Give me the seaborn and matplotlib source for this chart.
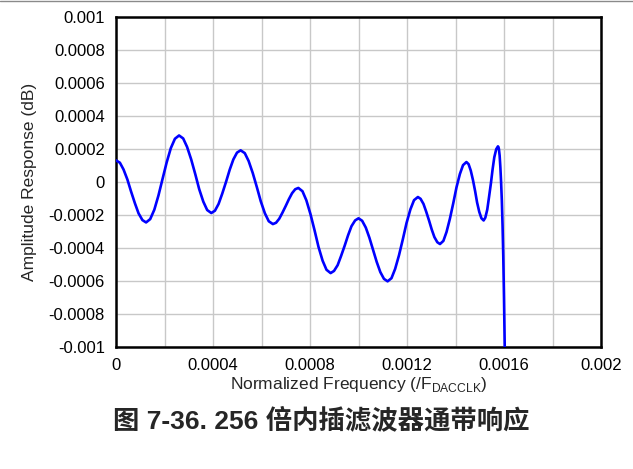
import matplotlib
matplotlib.use("Agg")
import matplotlib.pyplot as plt
from matplotlib.lines import Line2D
from matplotlib.ticker import MultipleLocator, FixedLocator
import numpy as np
import pandas as pd
import seaborn as sns

# Passband ripple of the 256x interpolation filter
# frequency in units of 1e-6 (normalized to F_DACCLK), response in units of 1e-6 dB
freq_u = [
    0, 16, 31, 47, 62, 78, 93, 109,
    124, 141, 158, 175, 192, 209, 226, 243,
    260, 277, 293, 310, 327, 343, 360, 376,
    393, 408, 423, 438, 454, 469, 484, 499,
    514, 531, 547, 564, 581, 597, 614, 630,
    647, 660, 673, 686, 700, 713, 726, 739,
    752, 769, 785, 802, 819, 835, 852, 868,
    885, 899, 914, 928, 943, 957, 971, 986,
    1000, 1015, 1030, 1045, 1060, 1075, 1090, 1105,
    1120, 1136, 1151, 1167, 1183, 1198, 1214, 1229,
    1245, 1256, 1268, 1279, 1291, 1302, 1313, 1325,
    1336, 1350, 1363, 1377, 1391, 1404, 1418, 1431,
    1445, 1454, 1463, 1472, 1481, 1489, 1498, 1507,
    1516, 1523, 1531, 1538, 1546, 1553, 1560, 1568,
    1575, 1577, 1579, 1582, 1585, 1588, 1591, 1594, 1597, 1600, 1603, 1608,
]
resp_u = [
    131, 117, 76, 15, -57, -129, -190, -231,
    -245, -225, -168, -82, 19, 119, 205, 262,
    282, 264, 213, 137, 47, -43, -119, -170,
    -188, -174, -133, -71, 2, 75, 137, 178,
    192, 175, 127, 54, -32, -117, -190, -238,
    -255, -247, -223, -187, -145, -104, -68, -44,
    -36, -56, -111, -195, -294, -393, -477, -532,
    -552, -539, -504, -449, -386, -323, -268, -233,
    -220, -235, -276, -338, -411, -484, -546, -587,
    -602, -583, -527, -444, -346, -249, -166, -110,
    -91, -102, -133, -179, -234, -288, -334, -365,
    -376, -357, -303, -222, -127, -33, 48, 102,
    121, 108, 69, 12, -56, -124, -181, -220,
    -233, -216, -167, -94, -8, 77, 150, 199,
    216, 212, 200, 160, 90, 0, -110, -260, -450, -700, -1000, -1500,
]

x_ticks = [0, 0.0004, 0.0008, 0.0012, 0.0016, 0.002]
x_tick_labels = ["0", "0.0004", "0.0008", "0.0012", "0.0016", "0.002"]
y_ticks = [0.001, 0.0008, 0.0006, 0.0004, 0.0002, 0, -0.0002, -0.0004, -0.0006, -0.0008, -0.001]
y_tick_labels = ["0.001", "0.0008", "0.0006", "0.0004", "0.0002", "0",
                 "-0.0002", "-0.0004", "-0.0006", "-0.0008", "-0.001"]

df = pd.DataFrame({
    "freq": np.array(freq_u) * 1e-6,
    "resp": np.array(resp_u) * 1e-6,
})

sns.set_style("white")
plt.rcParams["font.family"] = ["Liberation Sans", "Noto Sans CJK SC", "DejaVu Sans"]
plt.rcParams["mathtext.fontset"] = "custom"
plt.rcParams["mathtext.rm"] = "Liberation Sans"

fig = plt.figure(figsize=(6.33, 4.69), dpi=100)
ax = fig.add_axes([116 / 633, 1 - 347 / 469, (601 - 116) / 633, (347 - 17) / 469])

sns.lineplot(data=df, x="freq", y="resp", ax=ax, sort=False, color="#0000FF",
             linewidth=1.9, zorder=3)

ax.set_xlim(0, 0.002)
ax.set_ylim(-0.001, 0.001)
ax.xaxis.set_major_locator(FixedLocator(x_ticks))
ax.set_xticklabels(x_tick_labels)
ax.xaxis.set_minor_locator(MultipleLocator(0.0002))
ax.yaxis.set_major_locator(FixedLocator(y_ticks))
ax.set_yticklabels(y_tick_labels)

ax.grid(True, which="both", color="#c8c8c8", linewidth=1.0, zorder=0)
ax.set_axisbelow(True)
ax.tick_params(which="both", length=0, labelsize=12, colors="black")
ax.tick_params(axis="x", pad=8)
ax.tick_params(axis="y", pad=8)

for s in ax.spines.values():
    s.set_color("black")
    s.set_linewidth(1.8)
    s.set_visible(True)

ax.set_xlabel(r"Normalized Frequency (/F$_{\mathregular{DACCLK}}$)", fontsize=12.5, labelpad=1)
ax.set_ylabel("Amplitude Response (dB)", fontsize=12.5, labelpad=8)

fig.text(321 / 633, 1 - 420 / 469, "图 7-36. 256 倍内插滤波器通带响应",
         ha="center", va="center", fontsize=19, fontweight="bold",
         family=["Liberation Sans", "Noto Sans CJK SC"])

fig.add_artist(Line2D([0, 1], [1 - 0.6 / 469] * 2, color="#8a8a8a", linewidth=1.0))

fig.savefig("out.png", dpi=100)
